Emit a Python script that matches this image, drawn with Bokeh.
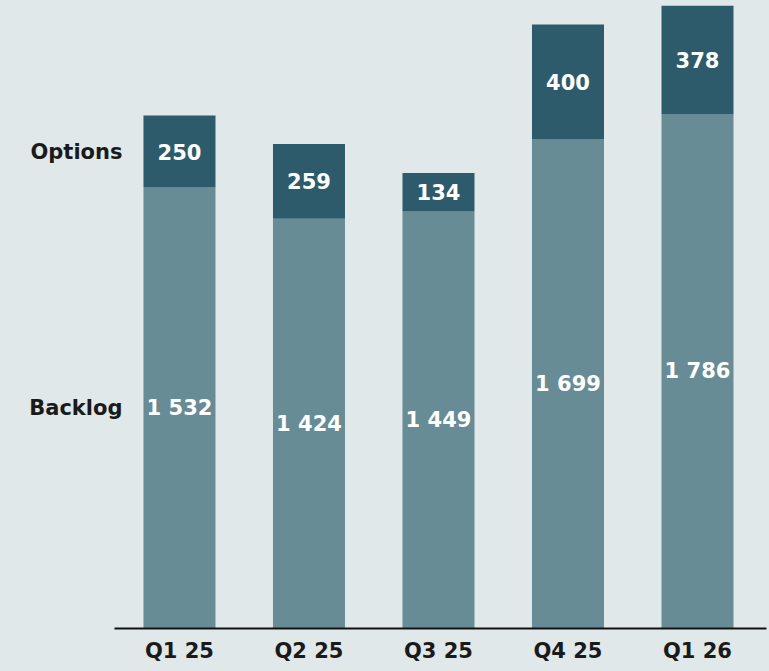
from bokeh.plotting import figure
from bokeh.models import ColumnDataSource, Range1d, FixedTicker
from bokeh.core.properties import value
from bokeh.embed import file_html
from bokeh.resources import INLINE

quarters = ["Q1 25", "Q2 25", "Q3 25", "Q4 25", "Q1 26"]
backlog = [1532, 1424, 1449, 1699, 1786]
options = [250, 259, 134, 400, 378]
series_names = ["Backlog", "Options"]

BG = "#e0e8ea"
C_BACKLOG = "#678c95"
C_OPTIONS = "#2d5b6b"
FONT = "DejaVu Sans"

def fmt(v):
    return f"{v:,}".replace(",", " ")

xs = list(range(len(quarters)))

src = ColumnDataSource(dict(
    x=xs,
    backlog=backlog,
    options=options,
    total=[b + o for b, o in zip(backlog, options)],
    b_mid=[b / 2 for b in backlog],
    o_mid=[b + o / 2 for b, o in zip(backlog, options)],
    b_lab=[fmt(b) for b in backlog],
    o_lab=[fmt(o) for o in options],
))

p = figure(
    width=769, height=671,
    x_range=Range1d(-1.382, 4.556),
    y_range=Range1d(0, 2182),
    output_backend="svg", toolbar_location=None,
    min_border_left=0, min_border_right=0, min_border_top=0, min_border_bottom=43,
    background_fill_color=BG, border_fill_color=BG,
    outline_line_color=None,
)

p.vbar(x="x", top="backlog", bottom=0, width=0.556, source=src,
       fill_color=C_BACKLOG, line_color=None)
p.vbar(x="x", top="total", bottom="backlog", width=0.556, source=src,
       fill_color=C_OPTIONS, line_color=None)

common = dict(text_color="white", text_font=value(FONT), text_font_style="bold",
              text_font_size="21px", text_align="center", text_baseline="middle")
p.text(x="x", y="b_mid", text="b_lab", source=src, **common)
p.text(x="x", y="o_mid", text="o_lab", source=src, **common)

# series labels to the left of the first bar
lab_src = ColumnDataSource(dict(
    x=[xs[0], xs[0]],
    y=[backlog[0] / 2, backlog[0] + options[0] / 2],
    t=series_names,
))
p.text(x="x", y="y", text="t", source=lab_src, x_offset=-57,
       text_color="#1a1a1a", text_font=value(FONT), text_font_style="bold",
       text_font_size="21px", text_align="right", text_baseline="middle")

p.xgrid.visible = False
p.ygrid.visible = False
p.yaxis.visible = False

ax = p.xaxis[0]
ax.ticker = FixedTicker(ticks=xs)
ax.major_label_overrides = {i: q for i, q in zip(xs, quarters)}
ax.bounds = (-0.5, len(quarters) - 0.47)
ax.axis_line_color = "#111111"
ax.axis_line_width = 2
ax.major_tick_line_color = None
ax.minor_tick_line_color = None
ax.major_label_text_font = FONT
ax.major_label_text_font_style = "bold"
ax.major_label_text_font_size = "21px"
ax.major_label_text_color = "#1a1a1a"
ax.major_label_standoff = 4

html = file_html(p, INLINE)
html = html.replace("</head>", "<style>body{background:%s;}</style></head>" % BG, 1)
open("out.html", "w").write(html)
